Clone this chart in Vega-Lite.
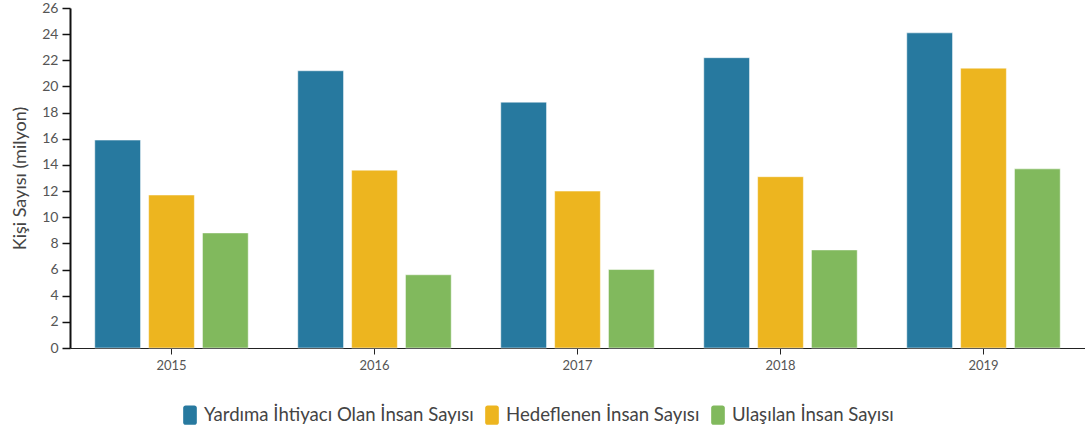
{
  "$schema": "https://vega.github.io/schema/vega-lite/v6.json",
  "width": 1015,
  "height": 340,
  "autosize": {"type": "none"},
  "padding": {"left": 70, "top": 8, "right": 0, "bottom": 87},
  "config": {
    "view": {"stroke": null},
    "font": "Lato",
    "axis": {"labelFont": "Lato", "titleFont": "Lato", "grid": false}
  },
  "data": {
    "values": [
      {"yil": "2015", "seri": "Yardıma İhtiyacı Olan İnsan Sayısı", "deger": 15.9},
      {"yil": "2015", "seri": "Hedeflenen İnsan Sayısı", "deger": 11.7},
      {"yil": "2015", "seri": "Ulaşılan İnsan Sayısı", "deger": 8.8},
      {"yil": "2016", "seri": "Yardıma İhtiyacı Olan İnsan Sayısı", "deger": 21.2},
      {"yil": "2016", "seri": "Hedeflenen İnsan Sayısı", "deger": 13.6},
      {"yil": "2016", "seri": "Ulaşılan İnsan Sayısı", "deger": 5.6},
      {"yil": "2017", "seri": "Yardıma İhtiyacı Olan İnsan Sayısı", "deger": 18.8},
      {"yil": "2017", "seri": "Hedeflenen İnsan Sayısı", "deger": 12.0},
      {"yil": "2017", "seri": "Ulaşılan İnsan Sayısı", "deger": 6.0},
      {"yil": "2018", "seri": "Yardıma İhtiyacı Olan İnsan Sayısı", "deger": 22.2},
      {"yil": "2018", "seri": "Hedeflenen İnsan Sayısı", "deger": 13.1},
      {"yil": "2018", "seri": "Ulaşılan İnsan Sayısı", "deger": 7.5},
      {"yil": "2019", "seri": "Yardıma İhtiyacı Olan İnsan Sayısı", "deger": 24.1},
      {"yil": "2019", "seri": "Hedeflenen İnsan Sayısı", "deger": 21.4},
      {"yil": "2019", "seri": "Ulaşılan İnsan Sayısı", "deger": 13.7}
    ]
  },
  "mark": {"type": "bar", "stroke": "white", "strokeWidth": 1, "strokeOpacity": 0.5},
  "encoding": {
    "x": {
      "field": "yil", "type": "nominal",
      "scale": {"paddingInner": 0, "paddingOuter": 0},
      "axis": {
        "title": null, "labelAngle": 0, "labelFontSize": 13, "labelColor": "#555",
        "domainColor": "#222", "domainWidth": 1, "tickColor": "#222", "tickSize": 6, "labelPadding": 5
      }
    },
    "xOffset": {
      "field": "seri", "type": "nominal",
      "sort": ["Yardıma İhtiyacı Olan İnsan Sayısı", "Hedeflenen İnsan Sayısı", "Ulaşılan İnsan Sayısı"],
      "scale": {"paddingInner": 0.15, "paddingOuter": 0.46}
    },
    "y": {
      "field": "deger", "type": "quantitative",
      "scale": {"domain": [0, 26], "nice": false},
      "axis": {
        "title": "Kişi Sayısı (milyon)", "titleFontSize": 18, "titleFontWeight": "normal", "titleColor": "#444",
        "titlePadding": 12,
        "values": [0, 2, 4, 6, 8, 10, 12, 14, 16, 18, 20, 22, 24, 26],
        "labelFontSize": 14, "labelColor": "#555", "labelPadding": 4,
        "domainColor": "#111", "domainWidth": 2, "tickColor": "#111", "tickSize": 8, "tickWidth": 1.5
      }
    },
    "color": {
      "field": "seri", "type": "nominal",
      "sort": ["Yardıma İhtiyacı Olan İnsan Sayısı", "Hedeflenen İnsan Sayısı", "Ulaşılan İnsan Sayısı"],
      "scale": {
        "domain": ["Yardıma İhtiyacı Olan İnsan Sayısı", "Hedeflenen İnsan Sayısı", "Ulaşılan İnsan Sayısı"],
        "range": ["#27799f", "#edb51f", "#81b95d"]
      },
      "legend": {
        "title": null, "orient": "none", "direction": "horizontal",
        "legendX": 110, "legendY": 397,
        "labelFontSize": 18.6, "labelColor": "#444", "labelFont": "Lato",
        "symbolType": "M-0.45,-1H0.45A0.25,0.25 0 0 1 0.7,-0.75V0.75A0.25,0.25 0 0 1 0.45,1H-0.45A0.25,0.25 0 0 1 -0.7,0.75V-0.75A0.25,0.25 0 0 1 -0.45,-1Z",
        "symbolSize": 380, "symbolStrokeWidth": 0, "symbolOpacity": 1,
        "labelOffset": 4, "columnPadding": 8, "labelLimit": 400
      }
    }
  }
}
